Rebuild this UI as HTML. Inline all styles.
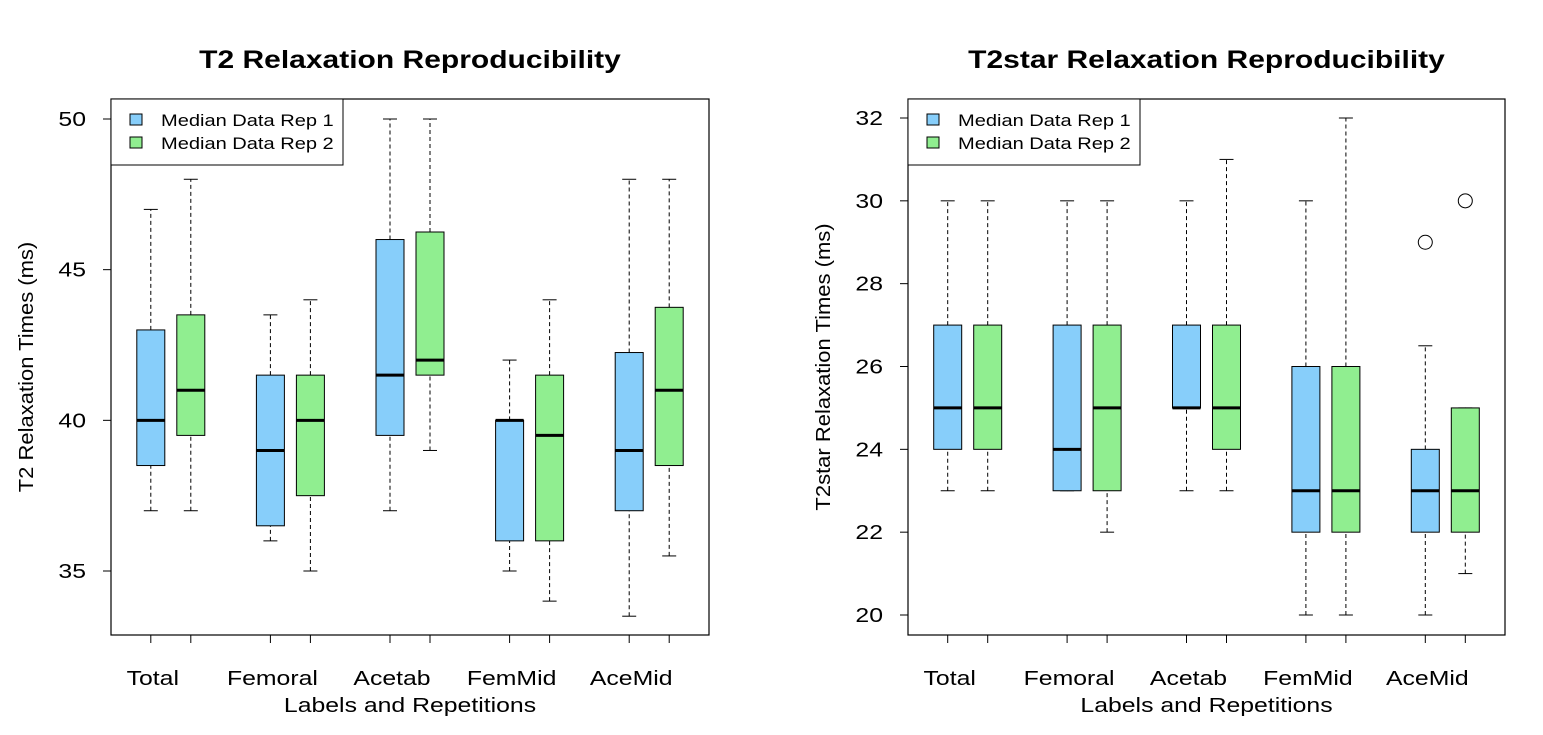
<!DOCTYPE html>
<html><head><meta charset="utf-8"><style>
body{margin:0;background:#fff;width:1543px;height:730px;overflow:hidden}
svg text{font-family:"Liberation Sans",Arial,sans-serif;fill:#000}
</style></head><body>
<svg id="s" width="1543" height="730" xmlns="http://www.w3.org/2000/svg"></svg>
<script>
const categories=["Total","Femoral","Acetab","FemMid","AceMid"];
const seriesNames=["Median Data Rep 1","Median Data Rep 2"];
// [whiskerLow, q1, median, q3, whiskerHigh]
const t2Rep1=[[37,38.5,40,43,47],[36,36.5,39,41.5,43.5],[37,39.5,41.5,46,50],[35,36,40,40,42],[33.5,37,39,42.25,48]];
const t2Rep2=[[37,39.5,41,43.5,48],[35,37.5,40,41.5,44],[39,41.5,42,46.25,50],[34,36,39.5,41.5,44],[35.5,38.5,41,43.75,48]];
const t2Ticks=[35,40,45,50];
const t2sRep1=[[23,24,25,27,30],[23,23,24,27,30],[23,25,25,27,30],[20,22,23,26,30],[20,22,23,24,26.5]];
const t2sRep2=[[23,24,25,27,30],[22,23,25,27,30],[23,24,25,27,31],[20,22,23,26,32],[21,22,23,25,25]];
const t2sOut1=[null,null,null,null,29];
const t2sOut2=[null,null,null,null,30];
const t2sTicks=[20,22,24,26,28,30,32];
const colors=["#87CEFA","#90EE90"];
const svg=document.getElementById('s');
const NS="http://www.w3.org/2000/svg";
const SX=1.24;
function mk(t,a,p,txt){const e=document.createElementNS(NS,t);for(const k in a)e.setAttribute(k,a[k]);if(txt!==undefined)e.textContent=txt;(p||svg).appendChild(e);return e;}
function txt(x,y,s,a,p,sx){a=Object.assign({x:0,y:0,transform:`translate(${x},${y}) scale(${sx||SX},1)`},a);return mk('text',a,p,s);}
function panel(o){
  const g=mk('g',{});
  
  
  const y=v=>o.y0+(v-o.v0)*(o.y1-o.y0)/(o.v1-o.v0);
  const t=txt((o.L+o.R)/2,68,o.title,{'text-anchor':'middle','font-size':25,'font-weight':'bold'},g,1.2);
  
  const fr=mk('rect',{x:o.L,y:99,width:o.R-o.L,height:536,fill:'none',stroke:'#000','stroke-width':1.2},g);
  
  o.ticks.forEach(v=>{
    mk('line',{x1:o.L-8,x2:o.L,y1:y(v),y2:y(v),stroke:'#000'},g);
    const tl=txt(o.L-25,y(v)+7,v,{'text-anchor':'end','font-size':20},g);
    
  });
  mk('line',{x1:o.L,x2:o.L,y1:y(o.ticks[0]),y2:y(o.ticks[o.ticks.length-1]),stroke:'#000'},g);
  const yt=mk('text',{x:0,y:0,transform:`translate(${o.L-78},${(99+635)/2}) rotate(-90) scale(1.1,1)`,'text-anchor':'middle','font-size':20},g,o.ylab);
  
  const xt=txt((o.L+o.R)/2,712,'Labels and Repetitions',{'text-anchor':'middle','font-size':20},g);
  
  const step=(o.R-o.L)/categories.length;
  const pos=[];
  categories.forEach((c,i)=>{
    const cx=o.L+step*(i+0.5);
    pos.push(cx-20,cx+20);
    const cl=txt(cx-18,685,c,{'text-anchor':'middle','font-size':20},g);
    
  });
  pos.forEach(px=>mk('line',{x1:px,x2:px,y1:635,y2:643,stroke:'#000'},g));
  mk('line',{x1:pos[0],x2:pos[pos.length-1],y1:635,y2:635,stroke:'#000'},g);
  [o.s1,o.s2].forEach((ser,si)=>ser.forEach((d,i)=>{
    const cx=pos[i*2+si],w=14;
    const b=mk('g',{},g);
    
    
    mk('line',{x1:cx,x2:cx,y1:y(d[0]),y2:y(d[1]),stroke:'#000','stroke-dasharray':'4,3'},b);
    mk('line',{x1:cx,x2:cx,y1:y(d[3]),y2:y(d[4]),stroke:'#000','stroke-dasharray':'4,3'},b);
    mk('line',{x1:cx-7,x2:cx+7,y1:y(d[0]),y2:y(d[0]),stroke:'#000'},b);
    mk('line',{x1:cx-7,x2:cx+7,y1:y(d[4]),y2:y(d[4]),stroke:'#000'},b);
    mk('rect',{x:cx-w,y:y(d[3]),width:2*w,height:y(d[1])-y(d[3]),fill:colors[si],stroke:'#000'},b);
    mk('line',{x1:cx-w,x2:cx+w,y1:y(d[2]),y2:y(d[2]),stroke:'#000','stroke-width':3},b);
    const out=si?o.o2:o.o1;
    if(out&&out[i]!=null){const c=mk('circle',{cx:cx,cy:y(out[i]),r:7,fill:'none',stroke:'#000'},b);
      }
  }));
  const lg=mk('g',{},g);
  
  mk('rect',{x:o.L,y:99,width:232,height:66,fill:'#fff',stroke:'#000'},lg);
  seriesNames.forEach((n,i)=>{
    const e=mk('g',{},lg);
    
    mk('rect',{x:o.L+19,y:114+i*23,width:12,height:11,fill:colors[i],stroke:'#000'},e);
    txt(o.L+50,126+i*23,n,{'font-size':17},e,1.18);
  });
}
panel({id:'t2-panel',L:111,R:709,y0:571,y1:119,v0:35,v1:50,ticks:t2Ticks,s1:t2Rep1,s2:t2Rep2,title:'T2 Relaxation Reproducibility',ylab:'T2 Relaxation Times (ms)'});
panel({id:'t2star-panel',L:908,R:1505,y0:615,y1:118,v0:20,v1:32,ticks:t2sTicks,s1:t2sRep1,s2:t2sRep2,o1:t2sOut1,o2:t2sOut2,title:'T2star Relaxation Reproducibility',ylab:'T2star Relaxation Times (ms)'});
</script>
</body></html>
